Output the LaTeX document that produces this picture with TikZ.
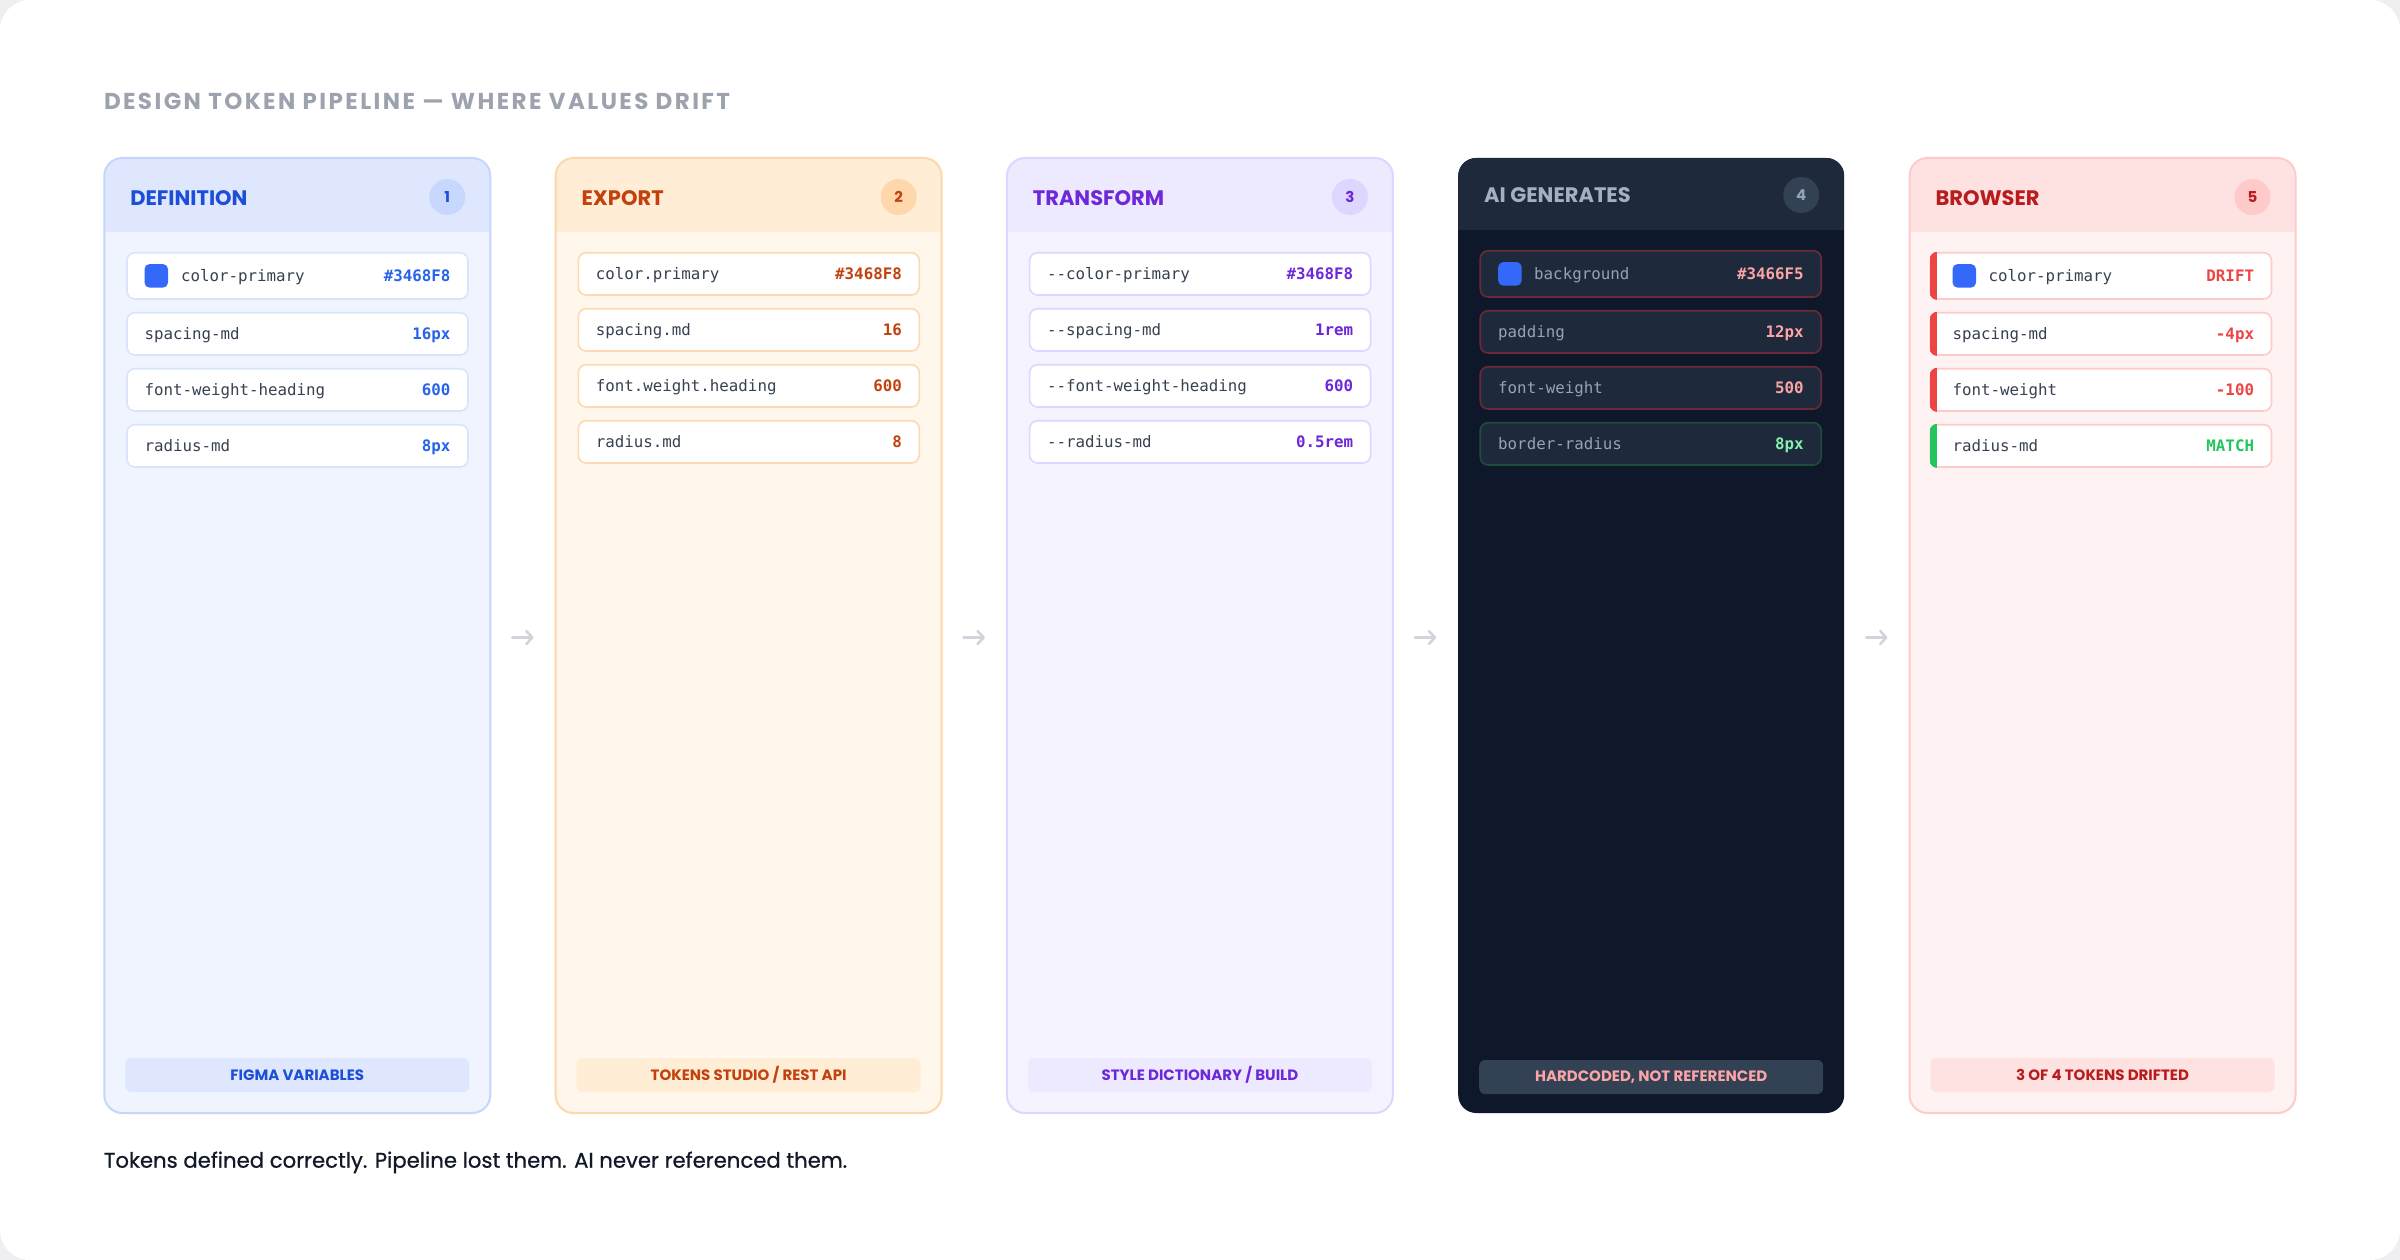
\documentclass[tikz,border=0pt]{standalone}
\usepackage{fontspec}
\setmainfont{Poppins}
\setmonofont{DejaVu Sans Mono}
\usetikzlibrary{arrows.meta}

\definecolor{pagebg}{HTML}{EFEFF1}
\definecolor{titlec}{HTML}{9CA3AF}
\definecolor{capc}{HTML}{111827}
\definecolor{arrc}{HTML}{D1D5DB}
\definecolor{swc}{HTML}{3468F8}
\definecolor{lblc}{HTML}{374151}
% definition
\definecolor{dhead}{HTML}{DEE7FE}
\definecolor{dbody}{HTML}{EFF4FF}
\definecolor{dborder}{HTML}{C5D6FB}
\definecolor{dtext}{HTML}{1D4ED8}
\definecolor{dbadge}{HTML}{C8D7FD}
\definecolor{drow}{HTML}{DAE4FD}
\definecolor{dval}{HTML}{2563EB}
% export
\definecolor{ehead}{HTML}{FFEDD5}
\definecolor{ebody}{HTML}{FFF6EC}
\definecolor{eborder}{HTML}{FED7AA}
\definecolor{etext}{HTML}{C2410C}
\definecolor{ebadge}{HTML}{FED7AA}
\definecolor{erow}{HTML}{FDD9B0}
% transform
\definecolor{thead}{HTML}{EDE9FE}
\definecolor{tbody}{HTML}{F5F3FF}
\definecolor{tborder}{HTML}{DDD6FE}
\definecolor{ttext}{HTML}{6D28D9}
\definecolor{tbadge}{HTML}{DDD6FE}
\definecolor{trow}{HTML}{DDD6FE}
% ai
\definecolor{abody}{HTML}{0F172A}
\definecolor{ahead}{HTML}{1E293B}
\definecolor{atitle}{HTML}{A3B0C4}
\definecolor{abadge}{HTML}{334155}
\definecolor{alabel}{HTML}{94A3B8}
\definecolor{arowred}{HTML}{6B2A36}
\definecolor{arowgreen}{HTML}{1F4D3A}
\definecolor{aval}{HTML}{FCA5A5}
\definecolor{agreen}{HTML}{86EFAC}
% browser
\definecolor{bhead}{HTML}{FEE2E2}
\definecolor{bbody}{HTML}{FEF2F2}
\definecolor{bborder}{HTML}{FECACA}
\definecolor{btext}{HTML}{B91C1C}
\definecolor{bbadge}{HTML}{FECACA}
\definecolor{bred}{HTML}{EF4444}
\definecolor{bgreen}{HTML}{22C55E}

\def\xA{104.3}
\def\xB{555.6}
\def\xC{1006.9}
\def\xD{1458.2}
\def\xE{1909.5}

\tikzset{
  txt/.style={inner sep=0pt, outer sep=0pt},
  cardframe/.style={rectangle, rounded corners=18pt, minimum width=386pt, minimum height=955pt,
    anchor=north west, inner sep=0pt, outer sep=0pt, line width=2pt},
  cardtitle/.style={txt, anchor=base west, font=\bfseries\fontsize{21}{24}\selectfont},
  badge/.style={circle, minimum size=36pt, inner sep=0pt, outer sep=0pt, font=\bfseries\fontsize{15}{18}\selectfont},
  tokrow/.style={rectangle, rounded corners=8pt, minimum width=341pt, minimum height=42.3pt,
    anchor=north west, inner sep=0pt, outer sep=0pt, line width=1.6pt, fill=white},
  tallrow/.style={tokrow, minimum height=46.3pt},
  lbl/.style={txt, anchor=base west, text=lblc, font=\ttfamily\fontsize{15.8}{18}\selectfont},
  val/.style={txt, anchor=base east, font=\ttfamily\bfseries\fontsize{15.8}{18}\selectfont},
  swatch/.style={rectangle, rounded corners=5pt, minimum size=23.5pt, inner sep=0pt, outer sep=0pt,
    fill=swc, anchor=west},
  pill/.style={rectangle, rounded corners=6pt, minimum width=344pt, minimum height=34pt,
    inner sep=0pt, outer sep=0pt, font=\bfseries\fontsize{15}{17}\selectfont},
  flowarr/.style={draw=arrc, line width=2.6pt, line cap=round,
    -{Straight Barb[length=6pt, width=13pt, line width=2.6pt, round]}},
}

\begin{document}
\begin{tikzpicture}[x=1pt,y=-1pt]
\fill[pagebg] (0,0) rectangle (2400,1260);
\fill[white, rounded corners=30pt] (0,0) rectangle (2400,1260);
\useasboundingbox (0,0) rectangle (2400,1260);

% title
\node[txt, anchor=base west, text=titlec, font=\bfseries\fontsize{23}{26}\selectfont\addfontfeature{LetterSpace=10.5}] (title) at (104,110)
  {DESIGN TOKEN PIPELINE — WHERE VALUES DRIFT};

% ================= card 1: definition
\fill[dbody, rounded corners=18pt] (\xA,158) rectangle ++(386,955);
\begin{scope}
  \clip[rounded corners=18pt] (\xA,158) rectangle ++(386,955);
  \fill[dhead] (\xA,158) rectangle ++(386,74);
\end{scope}
\node[cardframe, draw=dborder] (c1) at (\xA,158) {};
\node[cardtitle, text=dtext] (c1t) at (\xA+26,205) {DEFINITION};
\node[badge, fill=dbadge, text=dtext] (c1b) at (\xA+343,197) {1};

\node[tallrow, draw=drow] (d1) at (\xA+22.7,252.7) {};
\node[swatch] (d1s) at ([xshift=17.5pt]d1.west) {};
\node[lbl] (d1l) at ([xshift=54pt,yshift=-6pt]d1.west) {color-primary};
\node[val, text=dval] (d1v) at ([xshift=-17.5pt,yshift=-6pt]d1.east) {\#3468F8};

\node[tokrow, draw=drow] (d2) at (\xA+22.7,312.7) {};
\node[lbl] (d2l) at ([xshift=17.5pt,yshift=-6pt]d2.west) {spacing-md};
\node[val, text=dval] (d2v) at ([xshift=-17.5pt,yshift=-6pt]d2.east) {16px};

\node[tokrow, draw=drow] (d3) at (\xA+22.7,368.7) {};
\node[lbl] (d3l) at ([xshift=17.5pt,yshift=-6pt]d3.west) {font-weight-heading};
\node[val, text=dval] (d3v) at ([xshift=-17.5pt,yshift=-6pt]d3.east) {600};

\node[tokrow, draw=drow] (d4) at (\xA+22.7,424.7) {};
\node[lbl] (d4l) at ([xshift=17.5pt,yshift=-6pt]d4.west) {radius-md};
\node[val, text=dval] (d4v) at ([xshift=-17.5pt,yshift=-6pt]d4.east) {8px};

\node[pill, fill=dhead, text=dtext] (c1p) at (\xA+193,1075) {FIGMA VARIABLES};

% ================= card 2: export
\fill[ebody, rounded corners=18pt] (\xB,158) rectangle ++(386,955);
\begin{scope}
  \clip[rounded corners=18pt] (\xB,158) rectangle ++(386,955);
  \fill[ehead] (\xB,158) rectangle ++(386,74);
\end{scope}
\node[cardframe, draw=eborder] (c2) at (\xB,158) {};
\node[cardtitle, text=etext] (c2t) at (\xB+26,205) {EXPORT};
\node[badge, fill=ebadge, text=etext] (c2b) at (\xB+343,197) {2};

\node[tokrow, draw=erow] (e1) at (\xB+22.7,252.7) {};
\node[lbl] (e1l) at ([xshift=17.5pt,yshift=-6pt]e1.west) {color.primary};
\node[val, text=etext] (e1v) at ([xshift=-17.5pt,yshift=-6pt]e1.east) {\#3468F8};

\node[tokrow, draw=erow] (e2) at (\xB+22.7,308.7) {};
\node[lbl] (e2l) at ([xshift=17.5pt,yshift=-6pt]e2.west) {spacing.md};
\node[val, text=etext] (e2v) at ([xshift=-17.5pt,yshift=-6pt]e2.east) {16};

\node[tokrow, draw=erow] (e3) at (\xB+22.7,364.7) {};
\node[lbl] (e3l) at ([xshift=17.5pt,yshift=-6pt]e3.west) {font.weight.heading};
\node[val, text=etext] (e3v) at ([xshift=-17.5pt,yshift=-6pt]e3.east) {600};

\node[tokrow, draw=erow] (e4) at (\xB+22.7,420.7) {};
\node[lbl] (e4l) at ([xshift=17.5pt,yshift=-6pt]e4.west) {radius.md};
\node[val, text=etext] (e4v) at ([xshift=-17.5pt,yshift=-6pt]e4.east) {8};

\node[pill, fill=ehead, text=etext] (c2p) at (\xB+193,1075) {TOKENS STUDIO / REST API};

% ================= card 3: transform
\fill[tbody, rounded corners=18pt] (\xC,158) rectangle ++(386,955);
\begin{scope}
  \clip[rounded corners=18pt] (\xC,158) rectangle ++(386,955);
  \fill[thead] (\xC,158) rectangle ++(386,74);
\end{scope}
\node[cardframe, draw=tborder] (c3) at (\xC,158) {};
\node[cardtitle, text=ttext] (c3t) at (\xC+26,205) {TRANSFORM};
\node[badge, fill=tbadge, text=ttext] (c3b) at (\xC+343,197) {3};

\node[tokrow, draw=trow] (t1) at (\xC+22.7,252.7) {};
\node[lbl] (t1l) at ([xshift=17.5pt,yshift=-6pt]t1.west) {--color-primary};
\node[val, text=ttext] (t1v) at ([xshift=-17.5pt,yshift=-6pt]t1.east) {\#3468F8};

\node[tokrow, draw=trow] (t2) at (\xC+22.7,308.7) {};
\node[lbl] (t2l) at ([xshift=17.5pt,yshift=-6pt]t2.west) {--spacing-md};
\node[val, text=ttext] (t2v) at ([xshift=-17.5pt,yshift=-6pt]t2.east) {1rem};

\node[tokrow, draw=trow] (t3) at (\xC+22.7,364.7) {};
\node[lbl] (t3l) at ([xshift=17.5pt,yshift=-6pt]t3.west) {--font-weight-heading};
\node[val, text=ttext] (t3v) at ([xshift=-17.5pt,yshift=-6pt]t3.east) {600};

\node[tokrow, draw=trow] (t4) at (\xC+22.7,420.7) {};
\node[lbl] (t4l) at ([xshift=17.5pt,yshift=-6pt]t4.west) {--radius-md};
\node[val, text=ttext] (t4v) at ([xshift=-17.5pt,yshift=-6pt]t4.east) {0.5rem};

\node[pill, fill=thead, text=ttext] (c3p) at (\xC+193,1075) {STYLE DICTIONARY / BUILD};

% ================= card 4: AI generates
\fill[abody, rounded corners=18pt] (\xD,158) rectangle ++(386,955);
\begin{scope}
  \clip[rounded corners=18pt] (\xD,158) rectangle ++(386,955);
  \fill[ahead] (\xD,158) rectangle ++(386,72);
\end{scope}
\node[cardframe, draw=none] (c4) at (\xD,158) {};
\node[cardtitle, text=atitle] (c4t) at (\xD+26,203) {AI GENERATES};
\node[badge, fill=abadge, text=alabel] (c4b) at (\xD+343,195) {4};

\node[tallrow, fill=ahead, draw=arowred] (a1) at (\xD+22,250.7) {};
\node[swatch] (a1s) at ([xshift=18pt]a1.west) {};
\node[lbl, text=alabel] (a1l) at ([xshift=54pt,yshift=-6pt]a1.west) {background};
\node[val, text=aval] (a1v) at ([xshift=-17.5pt,yshift=-6pt]a1.east) {\#3466F5};

\node[tokrow, fill=ahead, draw=arowred] (a2) at (\xD+22,310.7) {};
\node[lbl, text=alabel] (a2l) at ([xshift=18pt,yshift=-6pt]a2.west) {padding};
\node[val, text=aval] (a2v) at ([xshift=-17.5pt,yshift=-6pt]a2.east) {12px};

\node[tokrow, fill=ahead, draw=arowred] (a3) at (\xD+22,366.7) {};
\node[lbl, text=alabel] (a3l) at ([xshift=18pt,yshift=-6pt]a3.west) {font-weight};
\node[val, text=aval] (a3v) at ([xshift=-17.5pt,yshift=-6pt]a3.east) {500};

\node[tokrow, fill=ahead, draw=arowgreen] (a4) at (\xD+22,422.7) {};
\node[lbl, text=alabel] (a4l) at ([xshift=18pt,yshift=-6pt]a4.west) {border-radius};
\node[val, text=agreen] (a4v) at ([xshift=-17.5pt,yshift=-6pt]a4.east) {8px};

\node[pill, fill=abadge, text=aval] (c4p) at (\xD+193,1077) {HARDCODED, NOT REFERENCED};

% ================= card 5: browser
\fill[bbody, rounded corners=18pt] (\xE,158) rectangle ++(386,955);
\begin{scope}
  \clip[rounded corners=18pt] (\xE,158) rectangle ++(386,955);
  \fill[bhead] (\xE,158) rectangle ++(386,74);
\end{scope}
\node[cardframe, draw=bborder] (c5) at (\xE,158) {};
\node[cardtitle, text=btext] (c5t) at (\xE+26,205) {BROWSER};
\node[badge, fill=bbadge, text=btext] (c5b) at (\xE+343,197) {5};

\node[tallrow, draw=bborder] (b1) at (\xE+21,252.7) {};
\node[tokrow, draw=bborder] (b2) at (\xE+21,312.7) {};
\node[tokrow, draw=bborder] (b3) at (\xE+21,368.7) {};
\node[tokrow, draw=bborder] (b4) at (\xE+21,424.7) {};
\foreach \r/\c in {b1/bred, b2/bred, b3/bred, b4/bgreen}{
  \begin{scope}
    \clip[rounded corners=8pt] ([shift={(-1pt,1pt)}]\r.north west) rectangle ([shift={(1pt,-1pt)}]\r.south east);
    \fill[\c] ([shift={(-1pt,1pt)}]\r.north west) rectangle ([xshift=6.5pt,yshift=-1pt]\r.south west);
  \end{scope}
}
\node[swatch] (b1s) at ([xshift=22pt]b1.west) {};
\node[lbl] (b1l) at ([xshift=58pt,yshift=-6pt]b1.west) {color-primary};
\node[val, text=bred] (b1v) at ([xshift=-17.5pt,yshift=-6pt]b1.east) {DRIFT};
\node[lbl] (b2l) at ([xshift=22pt,yshift=-6pt]b2.west) {spacing-md};
\node[val, text=bred] (b2v) at ([xshift=-17.5pt,yshift=-6pt]b2.east) {-4px};
\node[lbl] (b3l) at ([xshift=22pt,yshift=-6pt]b3.west) {font-weight};
\node[val, text=bred] (b3v) at ([xshift=-17.5pt,yshift=-6pt]b3.east) {-100};
\node[lbl] (b4l) at ([xshift=22pt,yshift=-6pt]b4.west) {radius-md};
\node[val, text=bgreen] (b4v) at ([xshift=-17.5pt,yshift=-6pt]b4.east) {MATCH};

\node[pill, fill=bhead, text=btext] (c5p) at (\xE+193,1075) {3 OF 4 TOKENS DRIFTED};

% ================= arrows
\draw[flowarr] ([xshift=22pt,yshift=-2pt]c1.east) -- ([xshift=-22pt,yshift=-2pt]c2.west);
\draw[flowarr] ([xshift=22pt,yshift=-2pt]c2.east) -- ([xshift=-22pt,yshift=-2pt]c3.west);
\draw[flowarr] ([xshift=22pt,yshift=-2pt]c3.east) -- ([xshift=-22pt,yshift=-2pt]c4.west);
\draw[flowarr] ([xshift=22pt,yshift=-2pt]c4.east) -- ([xshift=-22pt,yshift=-2pt]c5.west);

% caption
\node[txt, anchor=base west, text=capc, font=\fontsize{21.2}{25}\selectfont\addfontfeature{FakeBold=0.7}] (caption) at (104,1167.7)
  {Tokens defined correctly. Pipeline lost them. AI never referenced them.};
\end{tikzpicture}
\end{document}
